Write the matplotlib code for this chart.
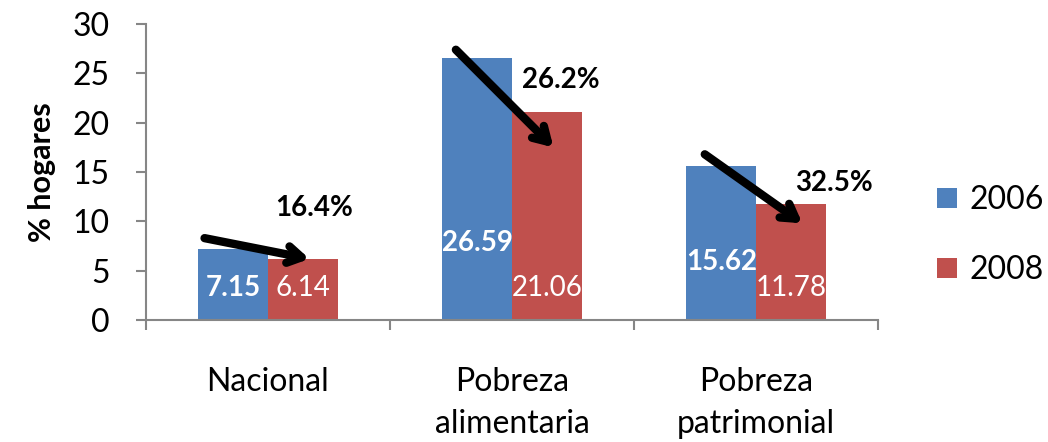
import numpy as np
import matplotlib
matplotlib.use("Agg")
from matplotlib import pyplot as plt

plt.rcParams['font.family'] = ['Lato', 'DejaVu Sans']

categories = ["Nacional", "Pobreza\nalimentaria", "Pobreza\npatrimonial"]
years = ["2006", "2008"]
v2006 = [7.15, 26.59, 15.62]
v2008 = [6.14, 21.06, 11.78]
changes = ["16.4%", "26.2%", "32.5%"]

# label heights (manually placed in original)
lab2006_y = [3.25, 7.8, 5.9]
lab2008_y = [3.25, 3.25, 3.25]

blue = "#4F81BD"
red = "#C0504D"
grey = "#868686"

fig = plt.figure(figsize=(10.48, 4.42), dpi=100)
ax = fig.add_axes([0.1393, 0.276, 0.6985, 0.6695])

x = np.arange(len(categories))
w = 0.285
b1 = ax.bar(x - w / 2, v2006, w, color=blue, label=years[0])
b2 = ax.bar(x + w / 2, v2008, w, color=red, label=years[1])

for i in range(len(categories)):
    ax.text(x[i] - w / 2, lab2006_y[i], "%.2f" % v2006[i], color="white",
            fontsize=20, fontweight="bold", ha="center", va="center")
    ax.text(x[i] + w / 2, lab2008_y[i], "%.2f" % v2008[i], color="white",
            fontsize=20, ha="center", va="center")

# arrows: start/end in data coords
arrow_start = [(-0.26, 8.3), (0.77, 27.4), (1.79, 16.8)]
arrow_end = [(0.17, 6.2), (1.17, 17.5), (2.19, 9.8)]
text_pos = [(0.19, 11.35), (1.20, 24.3), (2.32, 13.9)]
for i in range(len(categories)):
    ax.annotate("", xy=arrow_end[i], xytext=arrow_start[i],
                arrowprops=dict(arrowstyle="->,head_length=1.0,head_width=0.6",
                                lw=6, color="black", shrinkA=0, shrinkB=0,
                                capstyle="round", joinstyle="round"))
    ax.text(text_pos[i][0], text_pos[i][1], changes[i], fontsize=20,
            fontweight="bold", ha="center", va="center")

ax.set_xlim(-0.5, 2.5)
ax.set_ylim(0, 30)
ax.set_yticks(range(0, 31, 5))
ax.set_xticks([-0.5, 0.5, 1.5, 2.5])
ax.set_xticklabels([])
ax.set_xticks(x, minor=True)
ax.set_xticklabels(categories, minor=True, fontsize=23, linespacing=1.5)
ax.tick_params(axis='x', which='minor', length=0, pad=34)
ax.tick_params(axis='x', which='major', length=7, color=grey, width=1.5, direction='out')
ax.tick_params(axis='y', length=7, color=grey, width=1.5, labelsize=23, pad=19)

for s in ["top", "right"]:
    ax.spines[s].set_visible(False)
for s in ["left", "bottom"]:
    ax.spines[s].set_color(grey)
    ax.spines[s].set_linewidth(1.5)

ax.set_ylabel("% hogares", fontsize=22, fontweight="bold", labelpad=12)

fig.legend(handles=[b1, b2], labels=years, loc="center left",
           bbox_to_anchor=(0.894, 0.468), frameon=False, fontsize=23,
           borderpad=0, borderaxespad=0,
           handlelength=0.62, handleheight=0.62, labelspacing=1.25, handletextpad=0.4)

fig.savefig("out.png", dpi=100)
